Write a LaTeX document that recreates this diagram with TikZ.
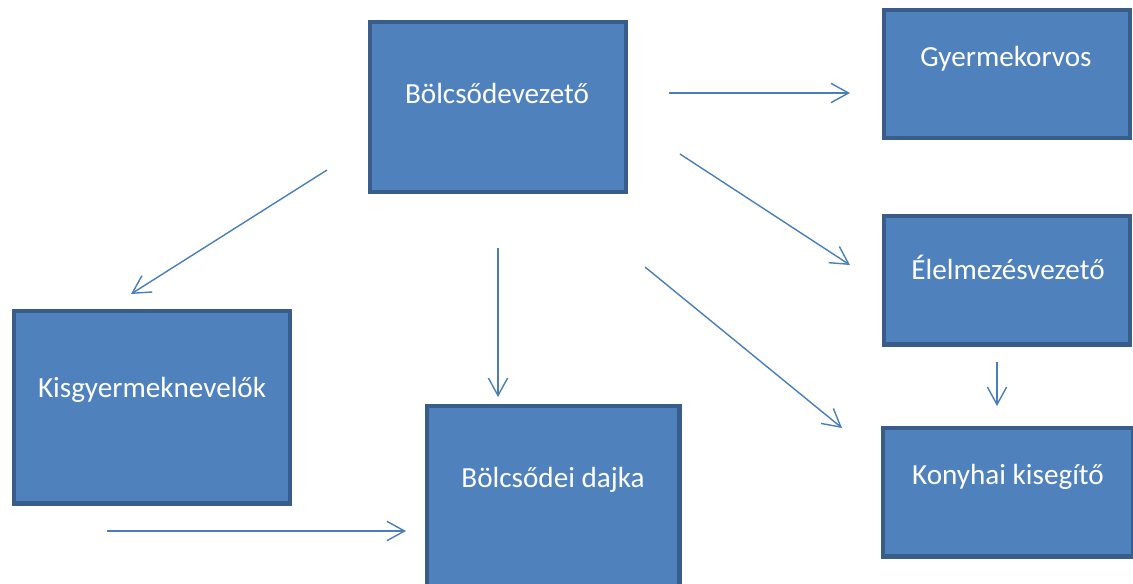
\documentclass[tikz,border=0pt]{standalone}
\usepackage{fontspec}
\setmainfont{Carlito}
\usetikzlibrary{arrows.meta}

\definecolor{boxfill}{HTML}{4F81BD}
\definecolor{boxline}{HTML}{385D8A}
\definecolor{arrowline}{HTML}{4A7EBB}

\begin{document}
\begin{tikzpicture}[x=0.02cm, y=-0.02cm,
	box/.style={draw=boxline, fill=boxfill, line width=2.3pt, rectangle, inner sep=0pt},
	txt/.style={text=white, font=\fontsize{16.6}{19}\selectfont, inner sep=0pt},
	arr/.style={draw=arrowline, line width=0.8pt, -{Straight Barb[length=10pt, width=11pt, line width=0.8pt]}}]
	
	\useasboundingbox (0,0) rectangle (1133,583);
	\clip (0,0) rectangle (1133,583);
	
	\node[box, minimum width=5.12cm, minimum height=3.4cm] (vez) at (498,107) {};
	\node[box, minimum width=4.92cm, minimum height=2.56cm] (orv) at (1007,74) {};
	\node[box, minimum width=4.92cm, minimum height=2.58cm] (elm) at (1007,280) {};
	\node[box, minimum width=5.0cm, minimum height=2.58cm] (kony) at (1008,492) {};
	\node[box, minimum width=5.54cm, minimum height=3.86cm] (kisgy) at (152,407) {};
	\node[box, minimum width=5.06cm, minimum height=3.6cm] (dajka) at (553,496) {};
	
	\node[txt] (tvez) at (497,93) {Bölcsődevezető};
	\node[txt] (torv) at (1006,59) {Gyermekorvos};
	\node[txt] (telm) at (1008,267) {Élelmezésvezető};
	\node[txt] (tkony) at (1008,477) {Konyhai kisegítő};
	\node[txt] (tkisgy) at (152,390) {Kisgyermeknevelők};
	\node[txt] (tdajka) at (553,480) {Bölcsődei dajka};
	
	\coordinate (a1) at (669,93);   \coordinate (a2) at (850,93);
	\coordinate (b1) at (680,154);  \coordinate (b2) at (850,265);
	\coordinate (c1) at (645,267);  \coordinate (c2) at (842,428);
	\coordinate (d1) at (498,248);  \coordinate (d2) at (498,397);
	\coordinate (e1) at (327,170);  \coordinate (e2) at (131,294);
	\coordinate (f1) at (107,531);  \coordinate (f2) at (406,531);
	\coordinate (g1) at (997,362);  \coordinate (g2) at (997,406);
	
	\draw[arr] (a1) -- (a2);
	\draw[arr] (b1) -- (b2);
	\draw[arr] (c1) -- (c2);
	\draw[arr] (d1) -- (d2);
	\draw[arr] (e1) -- (e2);
	\draw[arr] (f1) -- (f2);
	\draw[arr] (g1) -- (g2);
\end{tikzpicture}
\end{document}
